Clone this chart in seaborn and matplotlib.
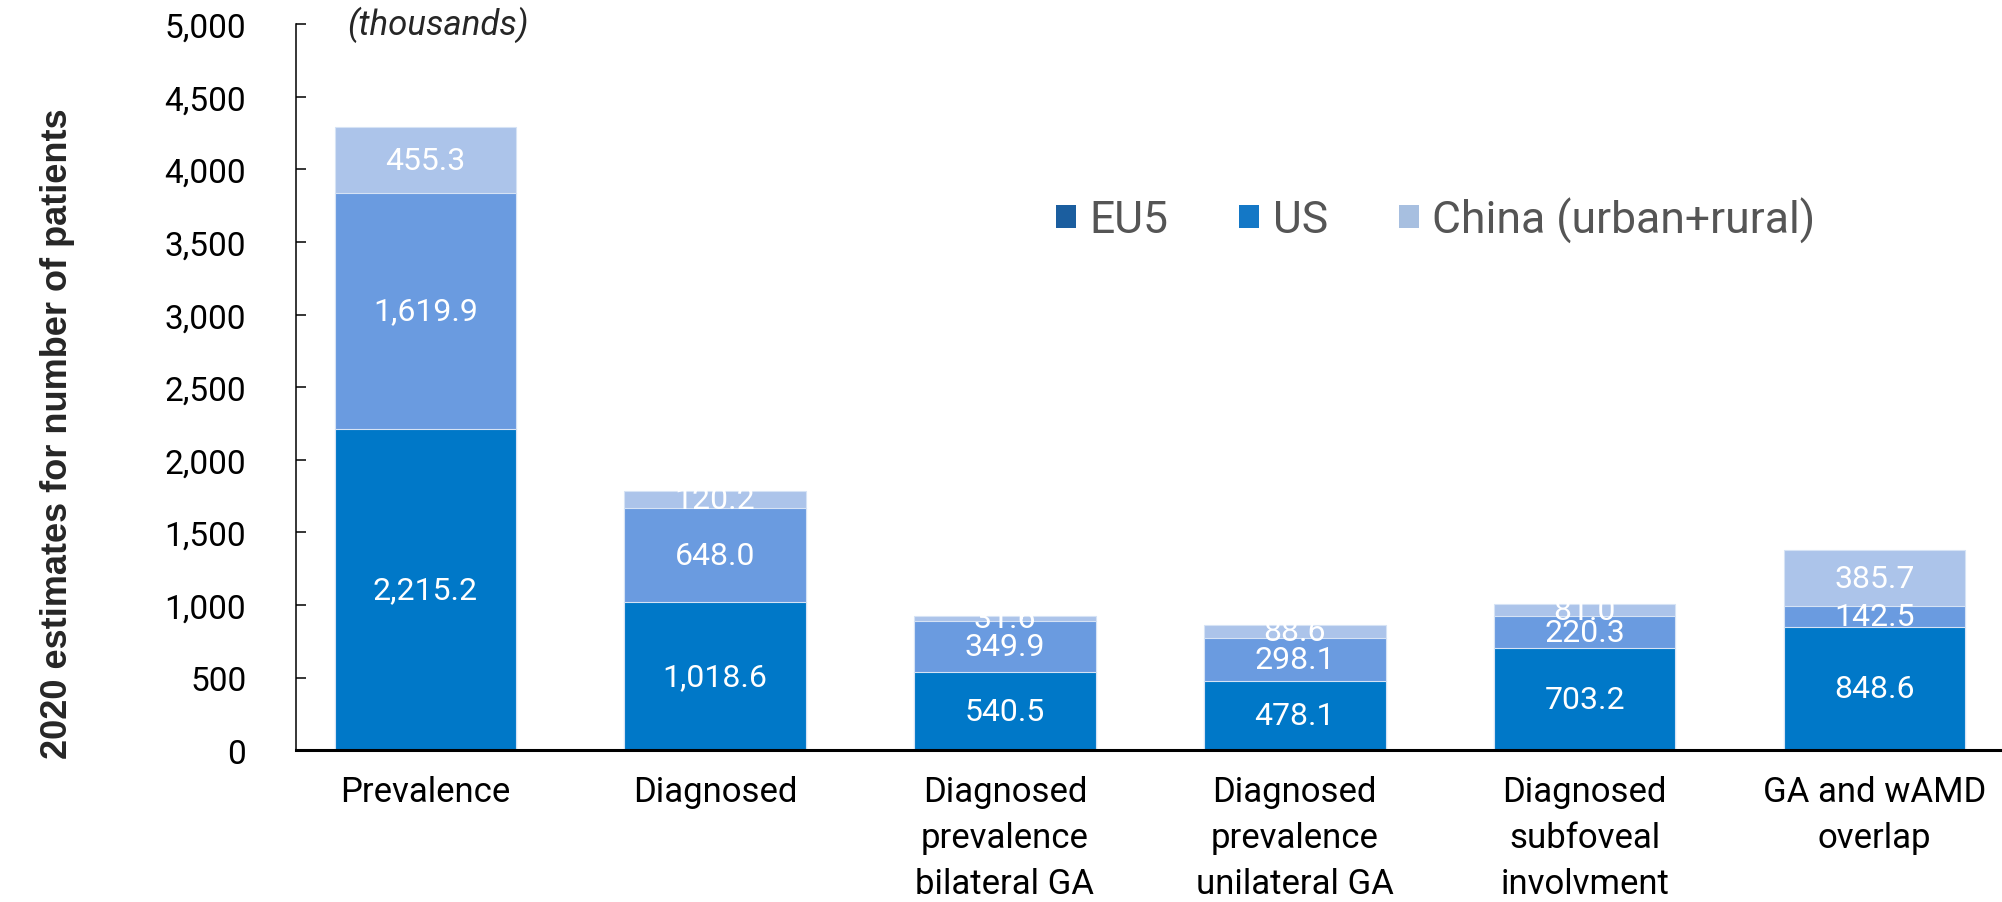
import numpy as np
import pandas as pd
import matplotlib
matplotlib.use("Agg")
import matplotlib.pyplot as plt
import seaborn as sns
from matplotlib.patches import Patch
from matplotlib.ticker import FuncFormatter

# Data (thousands of patients, 2020 estimates)
categories = ["Prevalence", "Diagnosed", "Diagnosed\nprevalence\nbilateral GA",
              "Diagnosed\nprevalence\nunilateral GA", "Diagnosed\nsubfoveal\ninvolvment",
              "GA and wAMD\noverlap"]
eu5 = [2215.2, 1018.6, 540.5, 478.1, 703.2, 848.6]
us = [1619.9, 648.0, 349.9, 298.1, 220.3, 142.5]
china = [455.3, 120.2, 31.6, 88.6, 81.0, 385.7]
series_names = ["EU5", "US", "China (urban+rural)"]

bar_colors = ["#0078C8", "#6A9BE0", "#ACC4EA"]
legend_colors = ["#1B5E9F", "#1478C6", "#A7BFE0"]

df = pd.DataFrame({"cat": categories, "EU5": eu5, "US": us, "China": china})
df["c1"] = df["EU5"]
df["c2"] = df["EU5"] + df["US"]
df["c3"] = df["c2"] + df["China"]

sns.set_style("white")
plt.rcParams["font.family"] = ["Roboto", "DejaVu Sans"]

fig = plt.figure(figsize=(20.02, 9.03), dpi=100)
ax = fig.add_axes([0.148, 0.168, 0.852, 0.804])

# stacked bars by overlaying cumulative totals
for col, color in zip(["c3", "c2", "c1"], bar_colors[::-1]):
    sns.barplot(data=df, x="cat", y=col, color=color, width=0.626, ax=ax,
                edgecolor="#D6E3F5", linewidth=0.8, saturation=1)

# segment labels
for i, row in df.iterrows():
    bottoms = [0, row["c1"], row["c2"]]
    for b, v in zip(bottoms, [row["EU5"], row["US"], row["China"]]):
        ax.text(i, b + v / 2, f"{v:,.1f}", ha="center", va="center",
                color="white", fontsize=23)

ax.set_xlim(-0.445, 5.44)
ax.set_ylim(0, 5000)
ax.set_yticks(np.arange(0, 5001, 500))
ax.yaxis.set_major_formatter(FuncFormatter(lambda v, p: f"{v:,.0f}"))
ax.set_xlabel("")
ax.set_ylabel("")

for s in ["top", "right"]:
    ax.spines[s].set_visible(False)
ax.spines["left"].set_color("black")
ax.spines["left"].set_linewidth(1.1)
ax.spines["bottom"].set_color("black")
ax.spines["bottom"].set_linewidth(2.2)

ax.tick_params(axis="y", direction="in", length=7, width=1.1, color="black",
               pad=36, labelsize=24, left=True)
ax.tick_params(axis="x", length=0, pad=18, labelsize=25)
for lab in ax.get_xticklabels():
    lab.set_linespacing(1.5)
    lab.set_color("black")
for lab in ax.get_yticklabels():
    lab.set_color("black")

ax.text(0.03, 1.0, "(thousands)", transform=ax.transAxes, ha="left", va="center",
        fontsize=25, style="italic")

fig.text(0.0285, 0.52, "2020 estimates for number of patients", rotation=90,
         ha="center", va="center", fontsize=26, fontweight="bold",
         family=["Liberation Sans", "DejaVu Sans"])

handles = [Patch(facecolor=c, edgecolor="none") for c in legend_colors]
leg = ax.legend(handles, series_names, loc="center", bbox_to_anchor=(0.668, 0.731),
                ncol=3, frameon=False, handlelength=0.45, handleheight=0.45,
                handletextpad=0.3, columnspacing=1.6,
                prop={"family": ["Roboto", "DejaVu Sans"], "size": 32})
for t in leg.get_texts():
    t.set_color("#555555")

fig.savefig("out.png", dpi=100)
